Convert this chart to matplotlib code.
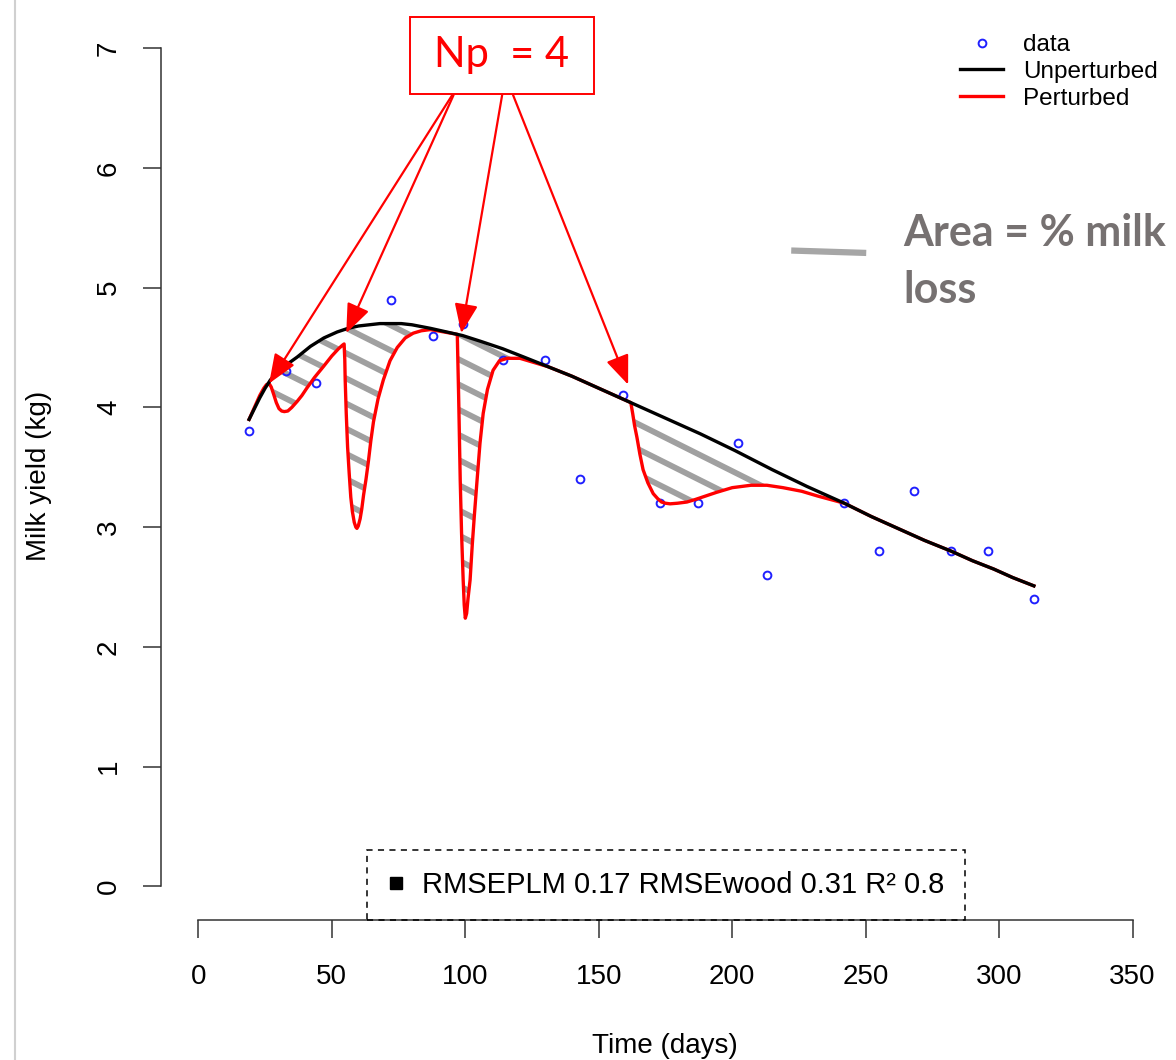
import numpy as np
import matplotlib.pyplot as plt
from matplotlib.lines import Line2D
from matplotlib.patches import Polygon, Rectangle
from matplotlib.collections import LineCollection

plt.rcParams["font.family"] = ["Liberation Sans", "DejaVu Sans"]

# observed test-day yields
dias_obs = [19, 33, 44, 58, 72, 88, 99, 114, 130, 143, 159, 173, 187, 202, 213, 242, 255, 268, 282, 296, 313]
leite_obs = [3.8, 4.3, 4.2, 4.8, 4.9, 4.6, 4.7, 4.4, 4.4, 3.4, 4.1, 3.2, 3.2, 3.7, 2.6, 3.2, 2.8, 3.3, 2.8, 2.8, 2.4]

# unperturbed curve
dias_base = [19, 21, 23, 25, 27, 29.5, 32, 34.5, 37, 42, 47, 52, 56, 60, 64, 68, 72, 76, 80, 87, 93,
             99, 106, 114, 122, 131, 140, 149, 155, 162, 175, 188, 201, 215, 228, 242, 252, 262, 272,
             282, 290, 298, 305, 313]
leite_base = [3.90, 3.99, 4.08, 4.16, 4.23, 4.29, 4.34, 4.38, 4.42, 4.51, 4.58, 4.63, 4.66, 4.68, 4.69,
              4.70, 4.70, 4.70, 4.69, 4.66, 4.63, 4.60, 4.55, 4.49, 4.42, 4.34, 4.26, 4.17, 4.11, 4.04,
              3.91, 3.78, 3.64, 3.48, 3.34, 3.20, 3.09, 2.99, 2.89, 2.80, 2.72, 2.65, 2.58, 2.51]

# perturbed curve
dias_pert = [19, 21, 23, 24.5, 25.5, 26.5, 27.3, 28.2, 29.2, 30.2, 31.2, 32.2, 33.5, 35, 37, 38.8,
             40.6, 43.5, 46.8, 50, 52.5, 54, 54.6,
             54.85, 55.0, 55.4, 55.9, 56.5, 57.1, 57.7, 58.4, 59.0, 59.4, 59.9, 60.6, 61.2, 61.9, 62.8,
             63.7, 64.6, 65.6, 67.3, 69.3, 71.8, 74.5, 77.5, 80.5, 83.5, 86.9, 92, 97,
             97.2, 97.5, 98.1, 98.6, 99.2, 99.6, 100, 100.5, 101, 101.8, 102.6, 103.4, 104.4, 105.5,
             106.7, 108.3, 110.4, 112.8, 115.7, 120.5, 125, 131, 140, 149, 155, 162,
             162.7, 163.4, 164.3, 165.4, 166.6, 168.4, 170.4, 172, 173.5, 175, 176.7, 179.5, 183, 186,
             190, 194, 200, 207, 213, 219, 226, 232, 237, 242,
             252, 262, 272, 282, 290, 298, 305, 313]
leite_pert = [3.90, 4.00, 4.10, 4.16, 4.19, 4.20, 4.17, 4.11, 4.04, 3.99, 3.97, 3.965, 3.97, 4.00, 4.05, 4.10,
              4.16, 4.25, 4.34, 4.43, 4.49, 4.52, 4.53,
              4.40, 4.23, 3.95, 3.67, 3.45, 3.25, 3.13, 3.04, 3.00, 2.99, 3.01, 3.07, 3.15, 3.27, 3.40,
              3.55, 3.72, 3.88, 4.07, 4.23, 4.39, 4.50, 4.58, 4.62, 4.64, 4.65, 4.63, 4.61,
              4.40, 4.10, 3.39, 2.95, 2.56, 2.35, 2.24, 2.28, 2.40, 2.56, 2.85, 3.10, 3.39, 3.70,
              3.95, 4.15, 4.31, 4.39, 4.41, 4.41, 4.38, 4.34, 4.26, 4.17, 4.11, 4.04,
              3.95, 3.85, 3.75, 3.61, 3.48, 3.37, 3.28, 3.24, 3.21, 3.20, 3.195, 3.20, 3.21, 3.23,
              3.26, 3.29, 3.33, 3.35, 3.35, 3.33, 3.30, 3.26, 3.23, 3.20,
              3.09, 2.99, 2.89, 2.80, 2.72, 2.65, 2.58, 2.51]

# onsets of the 4 perturbations (arrow targets)
inicio_dia = [26.5, 55.4, 98.5, 161]
inicio_leite = [4.20, 4.62, 4.62, 4.19]
origem_dia = [95.1, 95.6, 113.8, 117.9]

texto_rmse = "RMSEPLM 0.17 RMSEwood 0.31 R² 0.8"

W, H = 1176, 1060
fig = plt.figure(figsize=(W / 100, H / 100), dpi=100)
ax = fig.add_axes([161 / W, 1 - 920 / H, (1170 - 161) / W, (920 - 14.6) / H])
ax.set_xlim(-14, 364)
ax.set_ylim(-0.28, 7.28)

# hatched area between the two curves
poly = np.vstack([np.column_stack([dias_pert, leite_pert]),
                  np.column_stack([dias_base, leite_base])[::-1]])
area = Polygon(poly, closed=True, facecolor="none", edgecolor="none", transform=ax.transData)
ax.add_patch(area)
inclinacao = -0.01116
segs = []
for c in np.arange(1.5, 8.5, 0.21):
    segs.append([(-14, c + inclinacao * -14), (364, c + inclinacao * 364)])
hach = LineCollection(segs, colors="#a0a0a0", linewidths=4.2, zorder=2, capstyle="butt")
ax.add_collection(hach)
hach.set_clip_path(area)

pts, = ax.plot(dias_obs, leite_obs, "o", ms=5.6, mfc="none", mec="#2020ff", mew=1.4, zorder=2.5, label="data")
lp, = ax.plot(dias_pert, leite_pert, color="#ff0000", lw=2.4, zorder=3, label="Perturbed")
lb, = ax.plot(dias_base, leite_base, color="black", lw=2.4, zorder=4, label="Unperturbed")

for s in ["top", "right"]:
    ax.spines[s].set_visible(False)
for s in ["left", "bottom"]:
    ax.spines[s].set_linewidth(1.1)
    ax.spines[s].set_color("#333333")
ax.spines["left"].set_bounds(0, 7)
ax.spines["bottom"].set_bounds(0, 350)
ax.set_xticks(range(0, 351, 50))
ax.set_yticks(range(0, 8))
ax.tick_params(length=13, width=1.1, color="#333333", labelsize=20)
ax.tick_params(axis="x", pad=19)
ax.tick_params(axis="y", pad=15)
plt.setp(ax.get_yticklabels(), rotation=90, va="center")
ax.set_xlabel("Time (days)", fontsize=20)
ax.set_ylabel("Milk yield (kg)", fontsize=20)
ax.xaxis.set_label_coords(0.4995, -0.125)
ax.yaxis.set_label_coords(-0.108, 0.49)

leg = ax.legend(handles=[pts, lb, lp], loc="upper left", bbox_to_anchor=(960 / W, 1 - 34 / H),
                bbox_transform=fig.transFigure, frameon=False, fontsize=17.5, borderpad=0,
                borderaxespad=0, handlelength=1.77, handletextpad=0.82, labelspacing=0.2)
ax.add_artist(leg)

quad = Line2D([], [], marker="s", color="black", ls="none", ms=9)
leg2 = ax.legend(handles=[quad], labels=[texto_rmse], loc="center",
                 bbox_to_anchor=(666 / W, 1 - 885 / H), bbox_transform=fig.transFigure,
                 fontsize=21, borderpad=0.72, handlelength=0.55, handletextpad=0.6,
                 fancybox=False, framealpha=1)
fr = leg2.get_frame()
fr.set_edgecolor("black")
fr.set_linewidth(1.1)
fr.set_linestyle((0, (4, 3.5)))
fr.set_facecolor("none")

# Np annotation
ax.add_patch(Rectangle((79.4, 6.617), 148.3 - 79.4, 7.26 - 6.617, fill=False, edgecolor="red",
                       lw=1.4, clip_on=False, zorder=6))
ax.text(113.5, 6.94, "Np  = 4", color="red", fontsize=30, family=["Lato", "DejaVu Sans"],
        ha="center", va="center", zorder=6)
for xo, xd, yd in zip(origem_dia, inicio_dia, inicio_leite):
    ax.annotate("", xy=(xd, yd), xytext=(xo, 6.608),
                arrowprops=dict(arrowstyle="-|>,head_length=0.45,head_width=0.18", color="red",
                                lw=1.6, mutation_scale=40, shrinkA=0, shrinkB=0), zorder=6)

# area legend
ax.plot([222.1, 250.2], [5.31, 5.29], color="#a6a6a6", lw=4.5, solid_capstyle="butt", clip_on=False)
ax.text(264, 5.46, "Area = % milk", color="#767171", fontsize=31, fontweight="bold",
        family=["Lato", "DejaVu Sans"], ha="left", va="center", clip_on=False)
ax.text(264, 4.98, "loss", color="#767171", fontsize=31, fontweight="bold",
        family=["Lato", "DejaVu Sans"], ha="left", va="center", clip_on=False)

fig.add_artist(Line2D([15 / W, 15 / W], [0, 1], color="#d0d0d0", lw=1.5))

fig.savefig("out.png", dpi=100)
